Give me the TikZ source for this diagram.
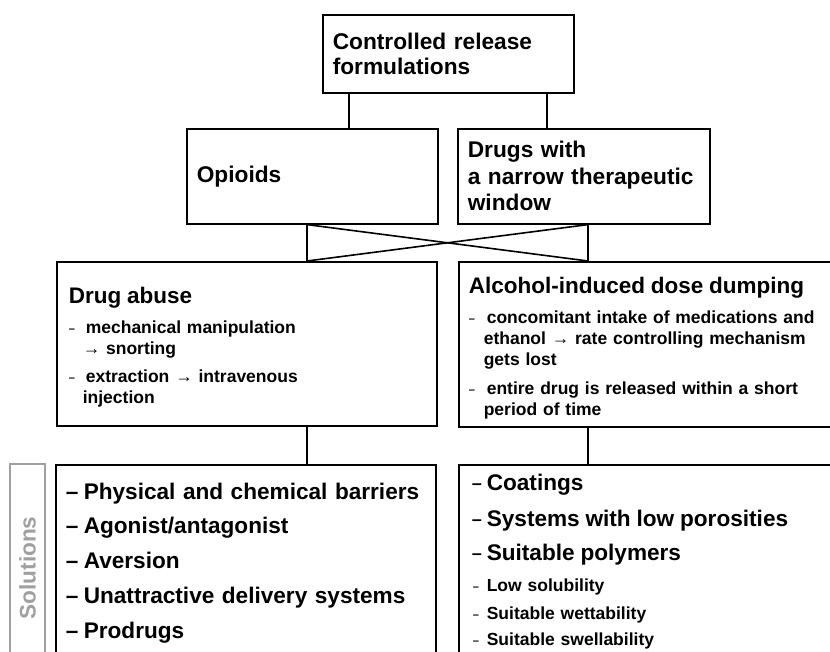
\documentclass[tikz,border=0pt]{standalone}
\usepackage{fontspec}
\setmainfont{Liberation Sans}
\definecolor{solgray}{RGB}{160,160,160}
\newcommand{\dsh}[1]{\makebox[#1pt][l]{\raisebox{1pt}{\fontsize{11}{11}\selectfont –}}}
\newcommand{\bdsh}{\makebox[18pt][l]{\hspace{3pt}\raisebox{0.5pt}{\fontsize{18}{18}\selectfont –}}}

\begin{document}
\begin{tikzpicture}
    [x=1pt, y=-1pt,
    box/.style={draw, line width=1.6pt, anchor=north west, inner xsep=10pt, inner ysep=0pt, align=left},
    head/.style={font=\bfseries\fontsize{22.7}{26}\selectfont},
    small/.style={font=\bfseries\fontsize{17.5}{21}\selectfont},
    big/.style={font=\bfseries\fontsize{22.6}{34.75}\selectfont},
    link/.style={line width=1.6pt},
    sol/.style={draw=solgray, line width=2.6pt, text=solgray, rotate=90, inner sep=0pt,
        font=\bfseries\fontsize{22.6}{27}\selectfont}]

    \useasboundingbox (0,0) rectangle (830,651);
    \clip (0,0) rectangle (830,651);

    \node[box, head, minimum width=251pt, minimum height=78pt, text width=231pt] (crf) at (322,14) {Controlled release\\[-1pt]formulations};
    \node[box, head, minimum width=251pt, minimum height=95pt, text width=231pt] (opi) at (186,128) {Opioids};
    \node[box, head, minimum width=252pt, minimum height=95pt, text width=232pt] (drg) at (457,128) {Drugs with\\[1pt]a narrow therapeutic\\window};

    \node[box, small, minimum width=380pt, minimum height=164pt, text width=356pt, inner xsep=12pt] (abu) at (56,261)
        {\rule{0pt}{24pt}{\fontsize{22.5}{26}\selectfont Drug abuse}\\[9pt]
        \dsh{17}mechanical manipulation\\
        \hspace*{14pt}→ snorting\\[7pt]
        \dsh{17}extraction → intravenous\\
        \hspace*{14pt}injection};
    \node[box, small, minimum width=420pt, minimum height=165pt, text width=400pt] (alc) at (458,261)
        {\rule{0pt}{24pt}{\fontsize{22.5}{26}\selectfont Alcohol-induced dose dumping}\\[9pt]
        \dsh{18}concomitant intake of medications and\\
        \hspace*{15pt}ethanol → rate controlling mechanism\\
        \hspace*{15pt}gets lost\\[8pt]
        \dsh{18}entire drug is released within a short\\
        \hspace*{15pt}period of time};

    % solutions
    \node[sol, minimum width=208pt, minimum height=35pt] (lab) at (27.5,568) {Solutions};
    \node[box, big, minimum width=380pt, minimum height=196pt, text width=360pt] (sla) at (55,464)
        {\makebox[18pt][l]{–}Physical and chemical barriers\\
        \makebox[18pt][l]{–}Agonist/antagonist\\
        \makebox[18pt][l]{–}Aversion\\
        \makebox[18pt][l]{–}Unattractive delivery systems\\
        \makebox[18pt][l]{–}Prodrugs};
    \node[box, small, minimum width=420pt, minimum height=193pt, text width=400pt] (slb) at (458,464)
        {{\fontsize{22.6}{27}\selectfont\bdsh Coatings}\\[14pt]
        {\fontsize{22.6}{27}\selectfont\bdsh Systems with low porosities}\\[12pt]
        {\fontsize{22.6}{27}\selectfont\bdsh Suitable polymers}\\[10pt]
        \hspace*{4pt}\dsh{14}Low solubility\\[7pt]
        \hspace*{4pt}\dsh{14}Suitable wettability\\[5pt]
        \hspace*{4pt}\dsh{14}Suitable swellability};

    \coordinate (ca) at (349,0);
    \coordinate (cb) at (547,0);
    \coordinate (lx) at (307,0);
    \coordinate (rx) at (588,0);

    % connectors
    \draw[link] (crf.south -| ca) -- (opi.north -| ca);
    \draw[link] (crf.south -| cb) -- (drg.north -| cb);
    \draw[link] (opi.south -| lx) -- (abu.north -| lx);
    \draw[link] (drg.south -| rx) -- (alc.north -| rx);
    \draw[link] (opi.south -| lx) -- (alc.north -| rx);
    \draw[link] (abu.north -| lx) -- (drg.south -| rx);
    \draw[link] (abu.south -| lx) -- (sla.north -| lx);
    \draw[link] (alc.south -| rx) -- (slb.north -| rx);

\end{tikzpicture}
\end{document}
